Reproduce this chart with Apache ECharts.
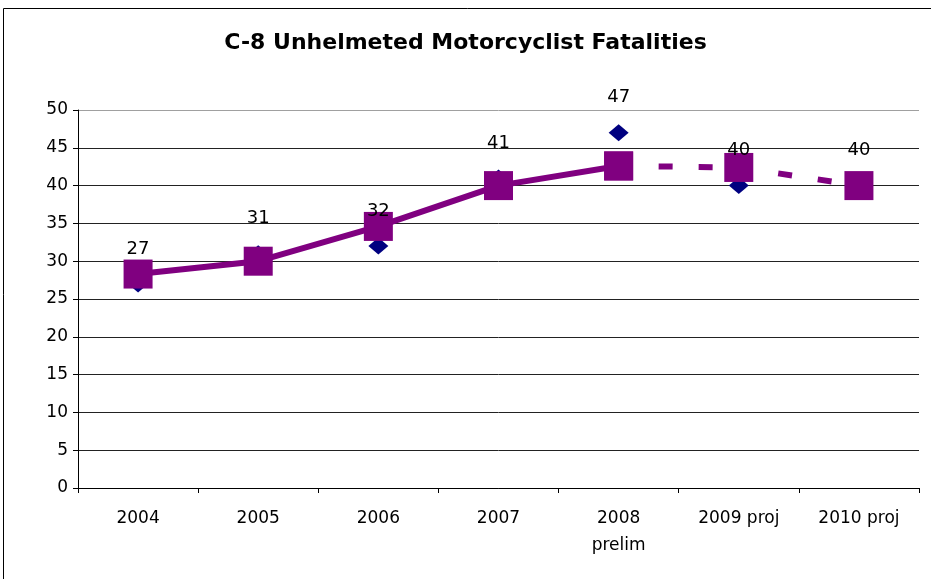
<!DOCTYPE html>
<html>
<head>
<meta charset="utf-8">
<script src="https://cdn.jsdelivr.net/npm/echarts@6/dist/echarts.min.js"></script>
<style>
  html, body { margin: 0; padding: 0; background: #fff; }
  #chart { width: 931px; height: 579px; }
</style>
</head>
<body>
<div id="chart"></div>
<script>
const categories = ["2004", "2005", "2006", "2007", "2008\nprelim", "2009 proj", "2010 proj"]
// actual / projected counts (blue diamonds, labelled)
const fatalities = [27, 31, 32, 41, 47, 40, 40]
// trend line (purple squares): solid part through 2008, dashed projection after
const trendActual = [28.3, 30, 34.6, 40, 42.6, "-", "-"]
const trendProjected = ["-", "-", "-", "-", 42.6, 42.4, 40]
const yTicks = [0, 50, 5]

const chart = echarts.init(document.getElementById("chart"))
const font = "DejaVu Sans, Arial, sans-serif"
const purple = "#800080"

// darker grid lines, gray one on top (plot border)
const splitColors = []
for (let v = yTicks[0]; v <= yTicks[1]; v += yTicks[2]) {
  splitColors.push(v === yTicks[1] ? "#a0a0a0" : "#222")
}

const option = {
  animation: false,
  title: {
    text: "C-8 Unhelmeted Motorcyclist Fatalities",
    left: "center",
    top: 27,
    textStyle: { fontFamily: font, fontSize: 22, fontWeight: "bold", color: "#000" },
  },
  graphic: [{
    type: "rect",
    shape: { x: 3.5, y: 8.5, width: 1000, height: 700 },
    style: { fill: "none", stroke: "#000", lineWidth: 1 },
    silent: true,
  }],
  grid: { left: 78, right: 12, top: 110, bottom: 91 },
  xAxis: {
    type: "category",
    data: categories,
    axisLine: { lineStyle: { color: "#000", width: 1 } },
    axisTick: { show: true, length: 5, lineStyle: { color: "#000" } },
    axisLabel: { fontFamily: font, fontSize: 17, color: "#000", margin: 17, lineHeight: 27 },
  },
  yAxis: {
    type: "value",
    min: yTicks[0],
    max: yTicks[1],
    interval: yTicks[2],
    axisLine: { show: true, lineStyle: { color: "#000", width: 1 } },
    axisTick: { show: true, length: 5, lineStyle: { color: "#000" } },
    axisLabel: { fontFamily: font, fontSize: 17, color: "#000", margin: 10 },
    splitLine: { show: true, lineStyle: { color: splitColors, width: 1 } },
  },
  series: [
    {
      name: "Fatalities",
      type: "scatter",
      data: fatalities,
      symbol: "diamond",
      symbolSize: [20, 17],
      itemStyle: { color: "#000080", opacity: 1 },
      z: 2,
    },
    {
      name: "Trend",
      type: "line",
      data: trendActual,
      symbol: "rect",
      symbolSize: 29,
      showAllSymbol: true,
      lineStyle: { color: purple, width: 6 },
      itemStyle: { color: purple, borderWidth: 0, opacity: 1 },
      z: 3,
    },
    {
      name: "Projection",
      type: "line",
      data: trendProjected,
      symbol: "rect",
      symbolSize: 29,
      showAllSymbol: true,
      lineStyle: { color: purple, width: 6, type: [14, 26] },
      itemStyle: { color: purple, borderWidth: 0, opacity: 1 },
      z: 3,
    },
    {
      // value labels drawn above everything
      name: "Labels",
      type: "scatter",
      data: fatalities,
      symbolSize: 0,
      itemStyle: { opacity: 1 },
      label: {
        show: true,
        position: "top",
        distance: 26,
        fontFamily: font,
        fontSize: 18,
        color: "#000",
      },
      z: 5,
    },
  ],
}

chart.setOption(option)
</script>
</body>
</html>
